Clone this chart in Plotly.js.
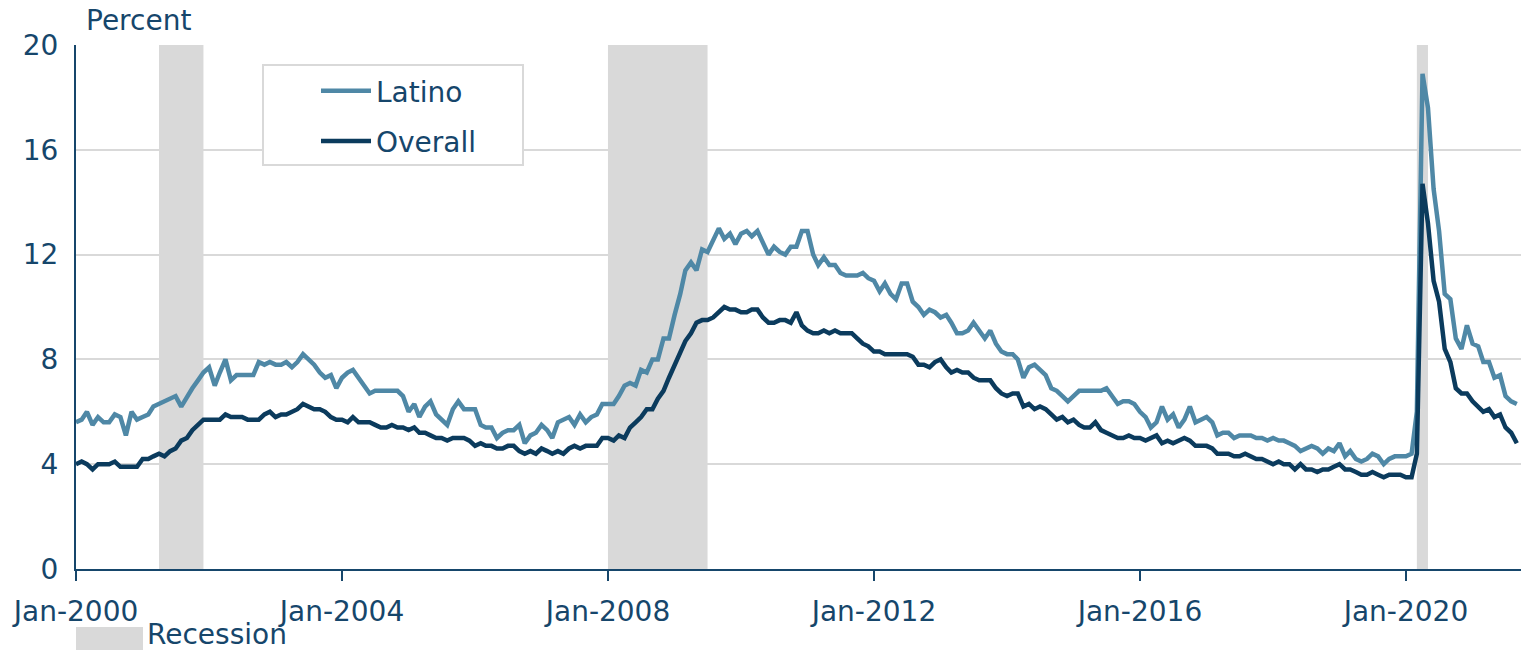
<!DOCTYPE html>
<html>
<head>
<meta charset="utf-8">
<script src="https://cdn.plot.ly/plotly-3.0.1.min.js"></script>
<style>html,body{margin:0;padding:0;background:#fff;}#chart{width:1521px;height:653px;}</style>
</head>
<body>
<div id="chart"></div>
<script>
// Monthly data, Jan-2000 .. Sep-2021
const startYear = 2000;
const latino = [
  5.6,5.7,6.0,5.5,5.8,5.6,5.6,5.9,5.8,5.1,6.0,5.7,
  5.8,5.9,6.2,6.3,6.4,6.5,6.6,6.2,6.6,6.9,7.2,7.5,
  7.7,7.0,7.5,8.0,7.2,7.4,7.4,7.4,7.4,7.9,7.8,7.9,
  7.8,7.8,7.9,7.7,7.9,8.2,8.0,7.8,7.5,7.3,7.4,6.9,
  7.3,7.5,7.6,7.3,7.0,6.7,6.8,6.8,6.8,6.8,6.8,6.6,
  6.0,6.3,5.8,6.2,6.4,5.9,5.7,5.5,6.1,6.4,6.1,6.1,
  6.1,5.5,5.4,5.4,5.0,5.2,5.3,5.3,5.5,4.8,5.1,5.2,
  5.5,5.3,5.0,5.6,5.7,5.8,5.5,5.9,5.6,5.8,5.9,6.3,
  6.3,6.3,6.6,7.0,7.1,7.0,7.6,7.5,8.0,8.0,8.8,8.8,
  9.7,10.5,11.4,11.7,11.4,12.2,12.1,12.6,13.0,12.6,12.8,12.4,
  12.8,12.9,12.7,12.9,12.5,12.0,12.3,12.1,12.0,12.3,12.3,12.9,
  12.9,12.0,11.6,11.9,11.6,11.6,11.3,11.2,11.2,11.2,11.3,11.1,
  11.0,10.6,10.9,10.5,10.3,10.9,10.9,10.2,10.0,9.7,9.9,9.8,
  9.6,9.7,9.4,9.0,9.0,9.1,9.4,9.1,8.8,9.1,8.6,8.3,
  8.2,8.2,8.0,7.3,7.7,7.8,7.6,7.4,6.9,6.8,6.6,6.4,
  6.6,6.8,6.8,6.8,6.8,6.8,6.9,6.6,6.3,6.4,6.4,6.3,
  6.0,5.8,5.4,5.6,6.2,5.7,5.9,5.4,5.7,6.2,5.6,5.7,
  5.8,5.6,5.1,5.2,5.2,5.0,5.1,5.1,5.1,5.0,5.0,4.9,
  5.0,4.9,4.9,4.8,4.7,4.5,4.6,4.7,4.6,4.4,4.6,4.5,
  4.8,4.3,4.5,4.2,4.1,4.2,4.4,4.3,4.0,4.2,4.3,4.3,
  4.3,4.4,6.0,18.9,17.6,14.5,12.9,10.5,10.3,8.8,8.4,9.3,
  8.6,8.5,7.9,7.9,7.3,7.4,6.6,6.4,6.3
];
const overall = [
  4.0,4.1,4.0,3.8,4.0,4.0,4.0,4.1,3.9,3.9,3.9,3.9,
  4.2,4.2,4.3,4.4,4.3,4.5,4.6,4.9,5.0,5.3,5.5,5.7,
  5.7,5.7,5.7,5.9,5.8,5.8,5.8,5.7,5.7,5.7,5.9,6.0,
  5.8,5.9,5.9,6.0,6.1,6.3,6.2,6.1,6.1,6.0,5.8,5.7,
  5.7,5.6,5.8,5.6,5.6,5.6,5.5,5.4,5.4,5.5,5.4,5.4,
  5.3,5.4,5.2,5.2,5.1,5.0,5.0,4.9,5.0,5.0,5.0,4.9,
  4.7,4.8,4.7,4.7,4.6,4.6,4.7,4.7,4.5,4.4,4.5,4.4,
  4.6,4.5,4.4,4.5,4.4,4.6,4.7,4.6,4.7,4.7,4.7,5.0,
  5.0,4.9,5.1,5.0,5.4,5.6,5.8,6.1,6.1,6.5,6.8,7.3,
  7.8,8.3,8.7,9.0,9.4,9.5,9.5,9.6,9.8,10.0,9.9,9.9,
  9.8,9.8,9.9,9.9,9.6,9.4,9.4,9.5,9.5,9.4,9.8,9.3,
  9.1,9.0,9.0,9.1,9.0,9.1,9.0,9.0,9.0,8.8,8.6,8.5,
  8.3,8.3,8.2,8.2,8.2,8.2,8.2,8.1,7.8,7.8,7.7,7.9,
  8.0,7.7,7.5,7.6,7.5,7.5,7.3,7.2,7.2,7.2,6.9,6.7,
  6.6,6.7,6.7,6.2,6.3,6.1,6.2,6.1,5.9,5.7,5.8,5.6,
  5.7,5.5,5.4,5.4,5.6,5.3,5.2,5.1,5.0,5.0,5.1,5.0,
  5.0,4.9,5.0,5.1,4.8,4.9,4.8,4.9,5.0,4.9,4.7,4.7,
  4.7,4.6,4.4,4.4,4.4,4.3,4.3,4.4,4.3,4.2,4.2,4.1,
  4.0,4.1,4.0,4.0,3.8,4.0,3.8,3.8,3.7,3.8,3.8,3.9,
  4.0,3.8,3.8,3.7,3.6,3.6,3.7,3.6,3.5,3.6,3.6,3.6,
  3.5,3.5,4.4,14.7,13.2,11.0,10.2,8.4,7.9,6.9,6.7,6.7,
  6.4,6.2,6.0,6.1,5.8,5.9,5.4,5.2,4.8
];
const recessionStart = ['2001-04-01','2008-01-01','2020-03-01'];
const recessionEnd   = ['2001-12-01','2009-07-01','2020-05-01'];
const xTickVals = ['2000-01-01','2004-01-01','2008-01-01','2012-01-01','2016-01-01','2020-01-01'];
const xTickText = ['Jan-2000','Jan-2004','Jan-2008','Jan-2012','Jan-2016','Jan-2020'];
const yTickVals = [0,4,8,12,16,20];

function monthDates(n){
  const out=[];
  for(let i=0;i<n;i++){
    const y=startYear+Math.floor(i/12), m=(i%12)+1;
    out.push(y+'-'+(m<10?'0':'')+m+'-01');
  }
  return out;
}
const dates = monthDates(latino.length);

const textColor = '#16466b';
const fontFam = 'DejaVu Sans, Liberation Sans, Arial, sans-serif';
const W = 1521, L = 76, R = 0, T = 45, B = 84;
const pw = W - L - R, ph = 653 - T - B;
const px = v => (v - L) / pw;
const py = v => (653 - B - v) / ph;

const traces = [
  {x: dates, y: latino, name: 'Latino', type: 'scatter', mode: 'lines',
   line: {color: '#4f88a6', width: 4.5}, legendgroup: 'a'},
  {x: dates, y: overall, name: 'Overall', type: 'scatter', mode: 'lines',
   line: {color: '#0b3b5d', width: 4.5}, legendgroup: 'b'}
];

const shapes = recessionStart.map((s,i)=>({
  type:'rect', xref:'x', yref:'paper', x0:s, x1:recessionEnd[i], y0:0, y1:1,
  fillcolor:'#d9d9d9', line:{width:0}, layer:'below'
}));
// legend frame
shapes.push({type:'rect', xref:'paper', yref:'paper', x0:px(263), x1:px(523), y0:py(165), y1:py(65),
  fillcolor:'#ffffff', line:{color:'#d9d9d9', width:2}, layer:'above'});
// recession key
shapes.push({type:'rect', xref:'paper', yref:'paper', x0:px(76), x1:px(143), y0:py(650), y1:py(627),
  fillcolor:'#d9d9d9', line:{width:0}});

const layout = {
  width: W, height: 653,
  margin: {l: L, r: R, t: T, b: B, pad: 0},
  paper_bgcolor: '#fff', plot_bgcolor: '#fff',
  font: {family: fontFam, size: 28, color: textColor},
  showlegend: true,
  legend: {x: px(316), y: py(66), xanchor: 'left', yanchor: 'top',
    bgcolor: 'rgba(0,0,0,0)', borderwidth: 0, tracegroupgap: 11,
    font: {family: fontFam, size: 28, color: textColor}, itemwidth: 50},
  xaxis: {type: 'date', range: ['2000-01-01','2021-09-24'],
    tickvals: xTickVals, ticktext: xTickText,
    showgrid: false, zeroline: false,
    showline: true, linecolor: textColor, linewidth: 2,
    ticks: 'outside', ticklen: 10, tickwidth: 2, tickcolor: textColor,
    ticklabelstandoff: 6,
    tickfont: {family: fontFam, size: 28, color: textColor}},
  yaxis: {range: [0,20], tickvals: yTickVals, ticktext: yTickVals.map(String),
    showgrid: true, gridcolor: '#d9d9d9', gridwidth: 2, zeroline: false,
    showline: true, linecolor: textColor, linewidth: 2, ticks: '',
    ticklabelstandoff: 10,
    tickfont: {family: fontFam, size: 28, color: textColor}},
  shapes: shapes,
  annotations: [
    {text: 'Percent', xref: 'paper', yref: 'paper', x: px(84), y: py(20),
     xanchor: 'left', yanchor: 'middle', showarrow: false,
     font: {family: fontFam, size: 28, color: textColor}},
    {text: 'Recession', xref: 'paper', yref: 'paper', x: px(145), y: py(634),
     xanchor: 'left', yanchor: 'middle', showarrow: false,
     font: {family: fontFam, size: 28, color: textColor}}
  ]
};

Plotly.newPlot('chart', traces, layout, {displayModeBar: false, staticPlot: true});
</script>
</body>
</html>
